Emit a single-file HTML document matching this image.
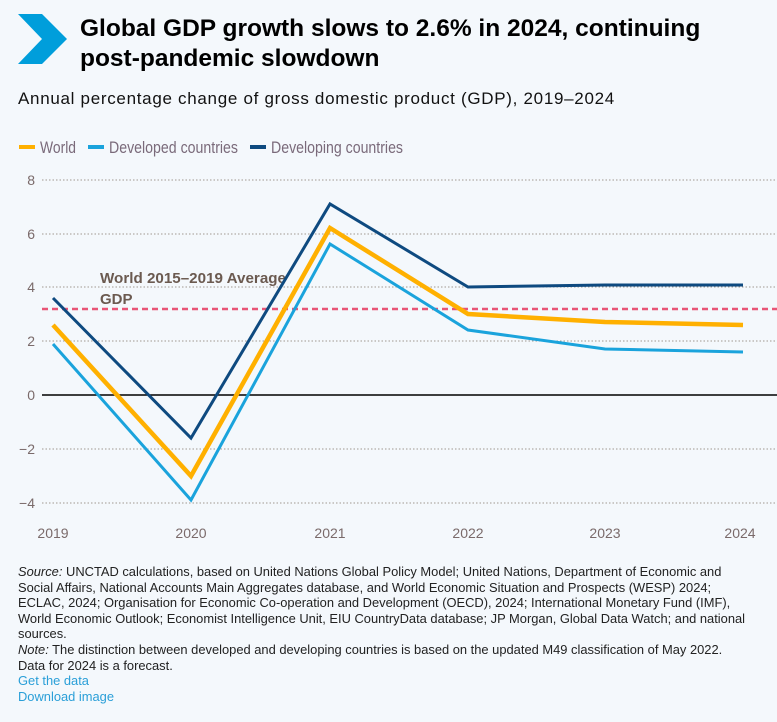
<!DOCTYPE html>
<html><head><meta charset="utf-8"><style>
body{margin:0;width:777px;height:722px;background:#f4f8fc;font-family:"Liberation Sans",sans-serif;position:relative;overflow:hidden}
.t{position:absolute;left:80px;top:14px;font-size:24.5px;font-weight:bold;line-height:30px;color:#000}
.s{position:absolute;left:18px;top:89px;font-size:17px;letter-spacing:0.7px;color:#111}
.src{position:absolute;left:18px;top:564px;font-size:12.9px;line-height:15.6px;color:#222;width:745px}
.src a{color:#2a9fd8;text-decoration:none}
</style></head><body>
<svg style="position:absolute;left:0;top:0" width="777" height="722">
<polygon points="18,14 42,14 67,39 42,64 18,64 42,39" fill="#009edb"/>
<g font-family="Liberation Sans Narrow, Liberation Sans, sans-serif" font-size="16.5" fill="#7a6a7a">
<line x1="19" y1="147" x2="35" y2="147" stroke="#ffb000" stroke-width="4"/><text x="40" y="153" textLength="36" lengthAdjust="spacingAndGlyphs">World</text>
<line x1="88" y1="147" x2="104" y2="147" stroke="#1aa3dc" stroke-width="4"/><text x="109" y="153" textLength="129" lengthAdjust="spacingAndGlyphs">Developed countries</text>
<line x1="250" y1="147" x2="266" y2="147" stroke="#0e4a80" stroke-width="4"/><text x="271" y="153" textLength="132" lengthAdjust="spacingAndGlyphs">Developing countries</text>
</g>
<g stroke="#a09890" stroke-width="1" stroke-dasharray="1.5,2">
<line x1="42" y1="180" x2="777" y2="180"/><line x1="42" y1="287" x2="777" y2="287"/><line x1="42" y1="341" x2="777" y2="341"/><line x1="42" y1="449" x2="777" y2="449"/><line x1="42" y1="503" x2="777" y2="503"/><line x1="42" y1="234" x2="777" y2="234"/>
</g>
<line x1="42" y1="395" x2="777" y2="395" stroke="#000" stroke-width="1.5"/>
<g font-size="14" fill="#7a6a6a" text-anchor="end">
<text x="35" y="185">8</text><text x="35" y="239">6</text><text x="35" y="292">4</text><text x="35" y="346">2</text><text x="35" y="400">0</text><text x="35" y="454">−2</text><text x="35" y="508">−4</text>
</g>
<g font-size="14" fill="#7a6a6a" text-anchor="middle">
<text x="53" y="538">2019</text><text x="191" y="538">2020</text><text x="330" y="538">2021</text><text x="468" y="538">2022</text><text x="605" y="538">2023</text><text x="740" y="538">2024</text>
</g>
<line x1="42" y1="309" x2="777" y2="309" stroke="#e85577" stroke-width="2.5" stroke-dasharray="6,4"/>
<g font-size="15" font-weight="bold" fill="#6b5a50"><text x="100" y="283" textLength="186" lengthAdjust="spacingAndGlyphs">World 2015–2019 Average</text><text x="100" y="304">GDP</text></g>
<g fill="none" stroke-linejoin="miter">
<polyline stroke="#1aa3dc" stroke-width="3" points="53,344 191,500 330,244 468,330 605,349 743,352"/>
<polyline stroke="#ffb000" stroke-width="4.5" points="53,325 191,476 330,228 468,314 605,322 743,325"/>
<polyline stroke="#0e4a80" stroke-width="3" points="53,298 191,438 330,204 468,287 605,285 743,285"/>
</g>
</svg>
<div class="t">Global GDP growth slows to 2.6% in 2024, continuing<br>post-pandemic slowdown</div>
<div class="s">Annual percentage change of gross domestic product (GDP), 2019–2024</div>
<div class="src"><i>Source:</i> UNCTAD calculations, based on United Nations Global Policy Model; United Nations, Department of Economic and<br>Social Affairs, National Accounts Main Aggregates database, and World Economic Situation and Prospects (WESP) 2024;<br>ECLAC, 2024; Organisation for Economic Co-operation and Development (OECD), 2024; International Monetary Fund (IMF),<br>World Economic Outlook; Economist Intelligence Unit, EIU CountryData database; JP Morgan, Global Data Watch; and national<br>sources.<br><i>Note:</i> The distinction between developed and developing countries is based on the updated M49 classification of May 2022.<br>Data for 2024 is a forecast.<br><a>Get the data</a><br><a>Download image</a></div>
</body></html>
